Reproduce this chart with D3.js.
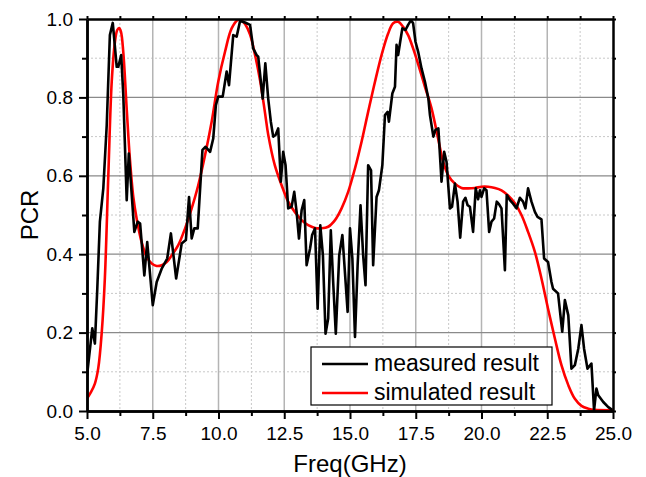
<!DOCTYPE html>
<html>
<head>
<meta charset="utf-8">
<script src="https://cdn.jsdelivr.net/npm/d3@7"></script>
<style>
  body { margin: 0; background: #fff; }
  svg { display: block; font-family: Arial, "Liberation Sans", sans-serif; }
</style>
</head>
<body>
<div id="chart"></div>
<script>
// =====================
// DATA
// =====================
const measuredFreq = [
  5.0, 5.2, 5.3, 5.39, 5.49, 5.62, 5.75, 5.87, 5.98, 6.13, 6.19, 6.3, 6.38, 6.51, 6.59,
  6.8, 6.93, 7.02, 7.18, 7.29, 7.5, 7.65, 7.84, 8.05, 8.19, 8.39, 8.6, 8.76, 8.88, 8.98,
  9.08, 9.21, 9.39, 9.51, 9.68, 9.8, 9.9, 9.99, 10.16, 10.31, 10.4, 10.56, 10.69, 10.82,
  11.01, 11.2, 11.32, 11.45, 11.51, 11.68, 11.78, 11.89, 11.99, 12.08, 12.17, 12.27, 12.37,
  12.46, 12.55, 12.65, 12.78, 12.88, 12.97, 13.06, 13.16, 13.26, 13.35, 13.48, 13.56, 13.67,
  13.77, 13.87, 13.97, 14.07, 14.17, 14.27, 14.36, 14.46, 14.59, 14.71, 14.91, 15.0, 15.09,
  15.19, 15.29, 15.4, 15.5, 15.59, 15.69, 15.8, 15.88, 16.01, 16.1, 16.23, 16.33, 16.43,
  16.48, 16.61, 16.71, 16.77, 16.83, 16.9, 16.99, 17.11, 17.21, 17.32, 17.4, 17.49, 17.59,
  17.72, 17.85, 17.98, 18.04, 18.17, 18.25, 18.36, 18.48, 18.58, 18.67, 18.8, 18.88, 18.99,
  19.09, 19.19, 19.3, 19.39, 19.47, 19.56, 19.68, 19.78, 19.87, 19.94, 20.0, 20.1, 20.19,
  20.29, 20.38, 20.48, 20.58, 20.67, 20.76, 20.89, 20.96, 21.08, 21.2, 21.33, 21.46, 21.58,
  21.67, 21.77, 21.9, 22.03, 22.13, 22.28, 22.38, 22.53, 22.66, 22.72, 22.91, 23.07, 23.17,
  23.3, 23.42, 23.55, 23.68, 23.8, 23.9, 24.03, 24.18, 24.28, 24.37, 24.44, 24.63, 24.82, 24.97
];
const measuredPcr = [
  0.09, 0.211, 0.172, 0.31, 0.483, 0.568, 0.729, 0.959, 0.99, 0.878, 0.878, 0.908, 0.806, 0.538, 0.657,
  0.457, 0.483, 0.478, 0.346, 0.431, 0.27, 0.329, 0.363, 0.389, 0.453, 0.338, 0.427, 0.436, 0.546, 0.44,
  0.466, 0.466, 0.666, 0.674, 0.661, 0.695, 0.78, 0.802, 0.802, 0.866, 0.831, 0.959, 0.955, 0.995,
  0.991, 0.985, 0.925, 0.908, 0.904, 0.797, 0.887, 0.797, 0.738, 0.7, 0.704, 0.721, 0.585,
  0.661, 0.627, 0.517, 0.521, 0.559, 0.508, 0.44, 0.512, 0.538, 0.372, 0.414, 0.449, 0.466,
  0.261, 0.474, 0.397, 0.197, 0.236, 0.461, 0.329, 0.197, 0.397, 0.449, 0.253, 0.466, 0.389,
  0.189, 0.372, 0.525, 0.397, 0.321, 0.627, 0.614, 0.372, 0.546, 0.563, 0.627, 0.755, 0.763,
  0.738, 0.81, 0.827, 0.934, 0.908, 0.938, 0.976, 0.972, 0.985, 0.997, 0.989, 0.942, 0.917,
  0.874, 0.84, 0.797, 0.755, 0.7, 0.717, 0.721, 0.585, 0.661, 0.636, 0.517, 0.521, 0.58,
  0.534, 0.442, 0.534, 0.544, 0.525, 0.521, 0.457, 0.568, 0.54, 0.563, 0.546, 0.568, 0.563,
  0.457, 0.483, 0.491, 0.534, 0.527, 0.517, 0.359, 0.551, 0.538, 0.529, 0.517, 0.544, 0.534,
  0.517, 0.568, 0.534, 0.508, 0.495, 0.489, 0.389, 0.38, 0.329, 0.312, 0.3, 0.202, 0.283,
  0.244, 0.108, 0.117, 0.159, 0.219, 0.159, 0.108, 0.121, 0.002, 0.057, 0.04, 0.023, 0.01, 0.003
];

const simFreq = [
  5.0, 5.15, 5.3, 5.43, 5.56, 5.68, 5.81, 5.94, 6.06, 6.15, 6.22, 6.29, 6.38, 6.51, 6.63,
  6.76, 6.89, 7.08, 7.27, 7.46, 7.65, 7.84, 8.03, 8.22, 8.47, 8.73, 8.98, 9.23, 9.49, 9.74,
  9.99, 10.25, 10.5, 10.75, 10.88, 11.01, 11.2, 11.39, 11.58, 11.77, 11.89, 12.14, 12.4,
  12.65, 12.9, 13.16, 13.41, 13.67, 13.92, 14.17, 14.43, 14.68, 14.93, 15.19, 15.44, 15.69,
  15.95, 16.2, 16.45, 16.64, 16.83, 17.02, 17.21, 17.4, 17.6, 17.85, 18.1, 18.35, 18.54,
  18.73, 18.99, 19.24, 19.49, 19.75, 20.0, 20.25, 20.51, 20.76, 21.01, 21.27, 21.52, 21.77,
  22.03, 22.28, 22.53, 22.79, 23.04, 23.3, 23.55, 23.8, 24.06, 24.31, 25.0
];
const simPcr = [
  0.032, 0.048, 0.07, 0.11, 0.2, 0.34, 0.6, 0.84, 0.94, 0.972, 0.977, 0.968, 0.915, 0.77, 0.644,
  0.546, 0.49, 0.43, 0.393, 0.376, 0.37, 0.372, 0.38, 0.397, 0.423, 0.466, 0.517, 0.576, 0.653, 0.738,
  0.84, 0.917, 0.976, 0.998, 0.996, 0.987, 0.96, 0.908, 0.844, 0.76, 0.705, 0.627, 0.576,
  0.534, 0.508, 0.487, 0.474, 0.467, 0.466, 0.47, 0.487, 0.517, 0.559, 0.619, 0.687, 0.763,
  0.84, 0.908, 0.963, 0.989, 0.993, 0.98, 0.959, 0.925, 0.883, 0.827, 0.772, 0.695, 0.636,
  0.602, 0.58, 0.569, 0.568, 0.569, 0.572, 0.572, 0.569, 0.563, 0.55, 0.53, 0.5, 0.457,
  0.406, 0.338, 0.261, 0.185, 0.117, 0.066, 0.031, 0.013, 0.006, 0.003, 0.002
];

const xMajor = [5, 7.5, 10, 12.5, 15, 17.5, 20, 22.5, 25];
const xMinor = [6.25, 8.75, 11.25, 13.75, 16.25, 18.75, 21.25, 23.75];
const yMajor = [0, 0.2, 0.4, 0.6, 0.8, 1.0];
const yMinor = [0.1, 0.3, 0.5, 0.7, 0.9];

const seriesNames = ["measured result", "simulated result"];
const seriesColors = ["#000000", "#ff0000"];

// =====================
// SVG SETUP
// =====================
const W = 646, H = 477;
const margin = {top: 19, right: 33, bottom: 66, left: 87};
const width = W - margin.left - margin.right;
const height = H - margin.top - margin.bottom;

const svgRoot = d3.select("#chart").append("svg")
  .attr("width", W)
  .attr("height", H);

const svg = svgRoot.append("g")
  .attr("transform", `translate(${margin.left},${margin.top})`);

const x = d3.scaleLinear().domain([5, 25]).range([0, width]);
const y = d3.scaleLinear().domain([0, 1]).range([height, 0]);

svgRoot.append("defs").append("clipPath").attr("id", "plot")
  .append("rect").attr("width", width).attr("height", height);

// =====================
// GRID
// =====================
const grid = svg.append("g");
grid.selectAll(".vmin").data(xMinor).enter().append("line")
  .attr("x1", d => x(d)).attr("x2", d => x(d)).attr("y1", 0).attr("y2", height)
  .attr("stroke", "#c8c8c8").attr("stroke-dasharray", "2,2");
grid.selectAll(".hmin").data(yMinor).enter().append("line")
  .attr("y1", d => y(d)).attr("y2", d => y(d)).attr("x1", 0).attr("x2", width)
  .attr("stroke", "#c8c8c8").attr("stroke-dasharray", "2,2");
grid.selectAll(".vmaj").data(xMajor.slice(1, -1)).enter().append("line")
  .attr("x1", d => x(d)).attr("x2", d => x(d)).attr("y1", 0).attr("y2", height)
  .attr("stroke", "#b4b4b4").attr("stroke-width", 1.5);
grid.selectAll(".hmaj").data(yMajor.slice(1, -1)).enter().append("line")
  .attr("y1", d => y(d)).attr("y2", d => y(d)).attr("x1", 0).attr("x2", width)
  .attr("stroke", "#8a8a8a").attr("stroke-width", 1.2);

// =====================
// LINES
// =====================
const measured = measuredFreq.map((f, i) => ({f, v: measuredPcr[i]}));
const simulated = simFreq.map((f, i) => ({f, v: simPcr[i]}));

const lines = svg.append("g").attr("clip-path", "url(#plot)");

lines.append("path")
  .datum(simulated)
  .attr("fill", "none")
  .attr("stroke", seriesColors[1])
  .attr("stroke-width", 2.6)
  .attr("stroke-linejoin", "round")
  .attr("d", d3.line().x(d => x(d.f)).y(d => y(d.v)).curve(d3.curveCatmullRom.alpha(0.5)));

lines.append("path")
  .datum(measured)
  .attr("fill", "none")
  .attr("stroke", seriesColors[0])
  .attr("stroke-width", 2.6)
  .attr("stroke-linejoin", "round")
  .attr("d", d3.line().x(d => x(d.f)).y(d => y(d.v)));

// =====================
// AXES
// =====================
const fmt = d3.format(".1f");

function styleAxis(g) {
  g.select(".domain").attr("stroke-width", 2.5);
  g.selectAll(".tick line").attr("stroke-width", 2);
}

// bottom
svg.append("g")
  .attr("transform", `translate(0,${height})`)
  .call(d3.axisBottom(x).tickValues(xMinor).tickSize(5).tickFormat("").tickSizeOuter(0))
  .call(styleAxis);
svg.append("g")
  .attr("transform", `translate(0,${height})`)
  .call(d3.axisBottom(x).tickValues(xMajor).tickSize(8).tickFormat(fmt).tickSizeOuter(0))
  .call(styleAxis)
  .call(g => g.selectAll("text").attr("y", 29).attr("dy", 0)
    .style("font-size", "19px").style("fill", "#000"));

// left
svg.append("g")
  .call(d3.axisLeft(y).tickValues(yMinor).tickSize(5).tickFormat("").tickSizeOuter(0))
  .call(styleAxis);
svg.append("g")
  .call(d3.axisLeft(y).tickValues(yMajor).tickSize(8).tickPadding(6).tickFormat(fmt).tickSizeOuter(0))
  .call(styleAxis)
  .call(g => g.selectAll("text").style("font-size", "19px").style("fill", "#000"));

// top / right
svg.append("g")
  .call(d3.axisTop(x).tickValues(xMajor.concat(xMinor)).tickSize(3).tickFormat("").tickSizeOuter(0))
  .call(styleAxis);
svg.append("g")
  .attr("transform", `translate(${width},0)`)
  .call(d3.axisRight(y).tickValues(yMajor.concat(yMinor)).tickSize(3).tickFormat("").tickSizeOuter(0))
  .call(styleAxis);

// =====================
// LABELS
// =====================
svgRoot.append("text")
  .attr("x", margin.left + width / 2)
  .attr("y", 472)
  .attr("text-anchor", "middle")
  .style("font-size", "24px")
  .text("Freq(GHz)");

svgRoot.append("text")
  .attr("transform", `translate(38,${margin.top + height / 2}) rotate(-90)`)
  .attr("text-anchor", "middle")
  .style("font-size", "24px")
  .text("PCR");

// =====================
// LEGEND
// =====================
const legend = svgRoot.append("g").attr("transform", "translate(311,347)");
legend.append("rect")
  .attr("width", 241).attr("height", 58)
  .attr("fill", "#fff").attr("stroke", "#000").attr("stroke-width", 1.2);

seriesNames.forEach((name, i) => {
  const row = legend.append("g").attr("transform", `translate(0,${17 + i * 29})`);
  row.append("line")
    .attr("x1", 11).attr("x2", 57)
    .attr("stroke", seriesColors[i]).attr("stroke-width", 2.6);
  row.append("text")
    .attr("x", 63).attr("y", 7)
    .style("font-size", "23px")
    .text(name);
});
</script>
</body>
</html>
